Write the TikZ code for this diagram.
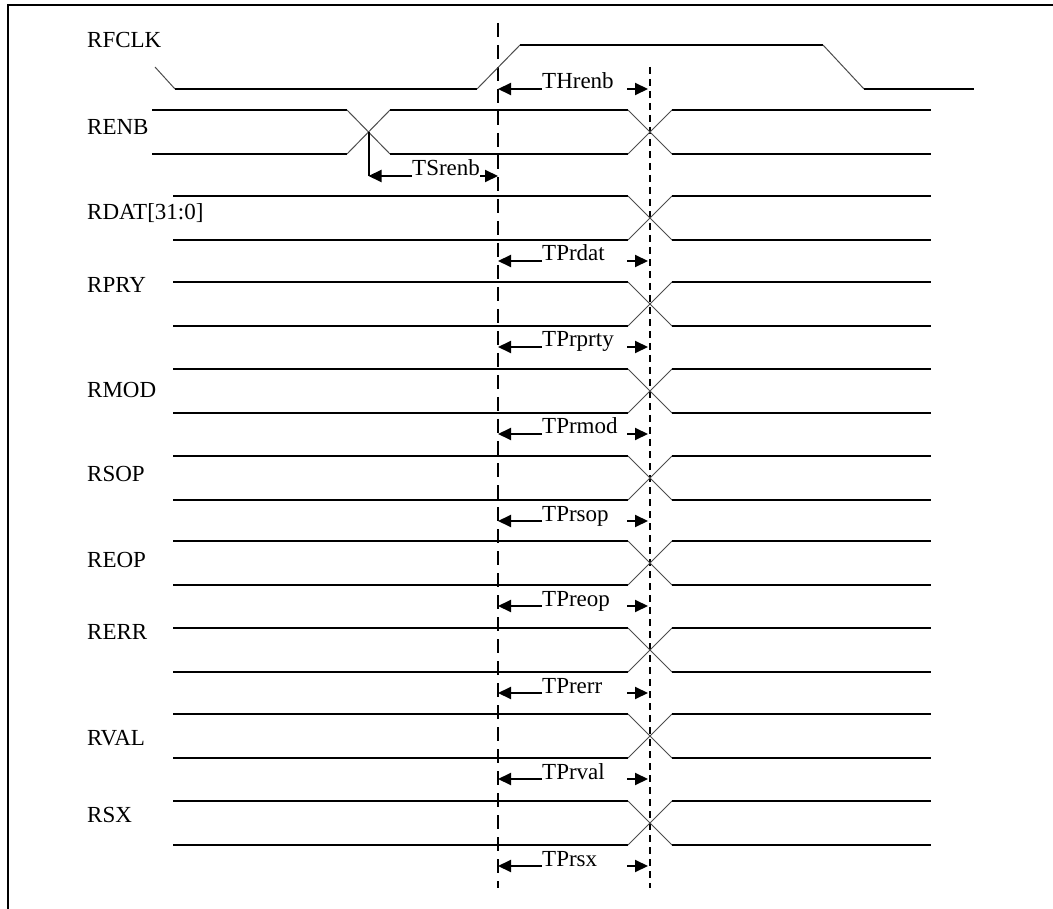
\documentclass[tikz,border=0pt]{standalone}
\usepackage{fontspec}
\setmainfont{Liberation Serif}
\usetikzlibrary{arrows.meta}
\tikzset{
  sig/.style={line width=2pt},
  slope/.style={line width=1pt, black!70},
  dimarrow/.style={line width=2pt, -{Triangle[length=13pt,width=12pt]}},
  siglabel/.style={anchor=west, inner sep=0pt, font=\fontsize{23}{27}\selectfont},
  dimlabel/.style={anchor=base west, inner sep=0pt, font=\fontsize{23}{27}\selectfont},
}

\begin{document}
\begin{tikzpicture}[x=1pt,y=-1pt]
\useasboundingbox (0,0) rectangle (1053,909);
\draw[line width=2.5pt] (8,909) -- (8,5) -- (1053,5);
%
\coordinate (clkedge) at (498,23);
\coordinate (valid) at (650,67);
\draw[line width=2.5pt, dash pattern=on 14pt off 8pt] (clkedge) -- (498,888);
\draw[line width=2.5pt, dash pattern=on 7pt off 5pt] (valid) -- (650,888);
%
% RFCLK
\node[siglabel] (rfclk) at (87,40) {RFCLK};
\draw[slope] (155,67) -- (175,89);
\draw[sig] (175,89) -- (477,89);
\draw[slope] (477,89) -- (520,45);
\draw[sig] (520,45) -- (823,45);
\draw[slope] (823,45) -- (864,89);
\draw[sig] (864,89) -- (974,89);
%
\node[dimlabel] (threnb) at (542,89) {THrenb};
\draw[dimarrow] (threnb.base west) -- (threnb.base west -| clkedge);
\draw[dimarrow] (627,89) -- ([xshift=-2pt]valid |- threnb.base);
%
% RENB
\node[siglabel] (renb) at (87,127) {RENB};
\draw[sig] (152,110) -- (347,110) (152,154) -- (347,154);
\draw[slope] (347,110) -- (390,154) (347,154) -- (390,110);
\draw[sig] (390,110) -- (628,110) (390,154) -- (628,154);
\draw[slope] (628,110) -- (672,154) (628,154) -- (672,110);
\draw[sig] (672,110) -- (931,110) (672,154) -- (931,154);
%
\coordinate (renbx) at (368.5,132);
\node[dimlabel] (tsrenb) at (412,176) {TSrenb};
\draw[line width=2pt] (renbx) -- (renbx |- tsrenb.base);
\draw[dimarrow] (tsrenb.base west) -- (renbx |- tsrenb.base);
\draw[dimarrow] (tsrenb.base east) -- (clkedge |- tsrenb.base);
%
% outputs
\foreach \name/\ytop/\ylab/\dim in {{RDAT[31:0]}/196/213/TPrdat, RPRY/282/285/TPrprty,
    RMOD/369/390/TPrmod, RSOP/456/474/TPrsop, REOP/541/560/TPreop,
    RERR/628/632/TPrerr, RVAL/714/738/TPrval, RSX/801/815/TPrsx} {
  \pgfmathsetmacro\ylo{\ytop+44}
  \pgfmathsetmacro\yarr{\ytop+65}
  \node[siglabel] (lbl-\dim) at (87,\ylab) {\name};
  \draw[sig] (173,\ytop) -- (628,\ytop) (173,\ylo) -- (628,\ylo);
  \draw[slope] (628,\ytop) -- (672,\ylo) (628,\ylo) -- (672,\ytop);
  \draw[sig] (672,\ytop) -- (931,\ytop) (672,\ylo) -- (931,\ylo);
  \node[dimlabel] (\dim) at (542,\yarr) {\dim};
  \draw[dimarrow] (\dim.base west) -- (\dim.base west -| clkedge);
  \draw[dimarrow] (627,\yarr) -- ([xshift=-2pt]valid |- \dim.base);
}
\end{tikzpicture}
\end{document}
